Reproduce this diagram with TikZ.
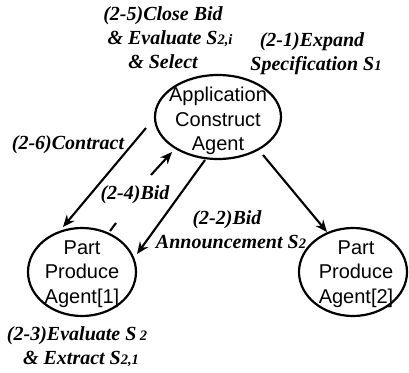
\documentclass[tikz,border=0pt]{standalone}
\usepackage{fontspec}
\setmainfont{Liberation Serif}
\setsansfont{Liberation Sans}
\usetikzlibrary{shapes.geometric,arrows.meta}
\tikzset{
  agent/.style={draw=black,line width=2.2pt,ellipse,inner sep=0pt},
  agenttext/.style={font=\sffamily\fontsize{20}{24.3}\selectfont,align=center,inner sep=0pt},
  note/.style={font=\bfseries\itshape\fontsize{20}{24}\selectfont,align=center,inner sep=0pt,text=black},
  link/.style={line width=2.1pt,-{Stealth[length=12pt,width=10pt]}},
  plain/.style={line width=2.1pt}
}
\newcommand{\sbs}[1]{{\fontsize{14.5}{14}\selectfont #1}}
\begin{document}
\begin{tikzpicture}[x=1pt,y=-1pt]
\useasboundingbox (0,0) rectangle (409,372);
\node[agent,minimum width=126pt,minimum height=84pt] (app) at (218,117) {};
\node[agent,minimum width=108pt,minimum height=88pt] (p1) at (82,272) {};
\node[agent,minimum width=108pt,minimum height=88pt] (p2) at (353,272) {};
\node[agenttext] (appt) at (218,121) {Application\\Construct\\Agent};
\node[agenttext] (p1t) at (82,274) {Part\\Produce\\Agent[1]};
\node[agenttext] (p2t) at (356,274) {Part\\Produce\\Agent[2]};
\node[note] (n5) at (163,38) {(2-5)Close Bid\\\hspace*{14pt}\& Evaluate S\sbs{2,i}\\\& Select};
\node[note] (n1) at (316,54) {\hspace*{-8pt}(2-1)Expand\\Specification S\sbs{1}};
\node[note] (n6) at (68,145) {(2-6)Contract};
\node[note] (n4) at (135,195) {(2-4)Bid};
\node[note] (n2) at (231,230) {\hspace*{-8pt}(2-2)Bid\\Announcement S\sbs{2}};
\node[note] (n3) at (81,347) {\hspace*{-8pt}(2-3)Evaluate S\,\sbs{2}\\\& Extract S\sbs{2,1}};
\coordinate (c1) at (146,128);
\coordinate (c2) at (63,227);
\coordinate (b1) at (110,231);
\coordinate (b2) at (116,223);
\coordinate (b3) at (151,175);
\coordinate (b4) at (172,152);
\coordinate (a1) at (205,160);
\coordinate (a2) at (137,254);
\coordinate (r1) at (263,155);
\coordinate (r2) at (327,232);
\draw[link] (c1) -- (c2);
\draw[plain] (b1) -- (b2);
\draw[link] (b3) -- (b4);
\draw[link] (a1) -- (a2);
\draw[link] (r1) -- (r2);
\end{tikzpicture}
\end{document}
